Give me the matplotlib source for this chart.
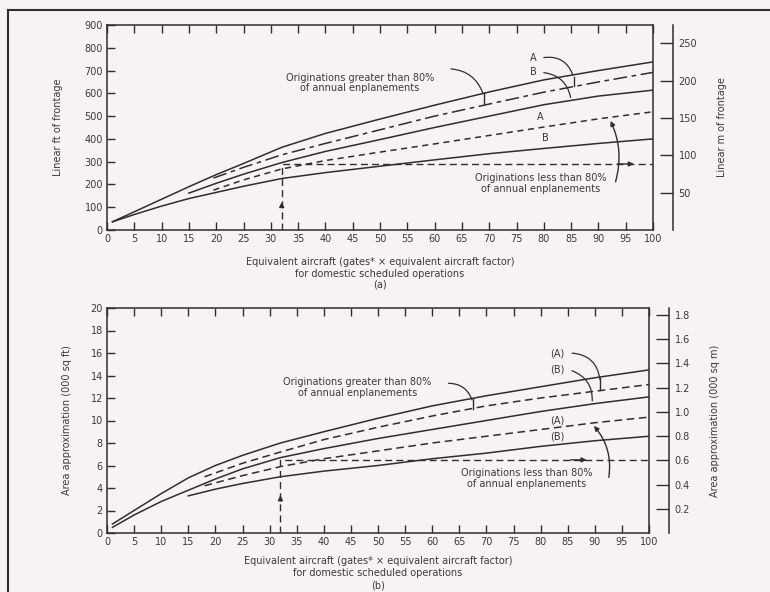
import matplotlib
matplotlib.use("Agg")
import matplotlib.pyplot as plt

# ---------------- data ----------------
# Panel (a): linear ft of frontage
a_x1 = [1, 5, 10, 15, 20, 25, 32, 40, 50, 60, 70, 80, 90, 100]
a_y1 = [36, 80, 135, 190, 243, 292, 363, 424, 487, 548, 606, 659, 700, 738]      # >80% A (solid)
a_x2 = [19.5, 25, 32, 40, 50, 60, 70, 80, 90, 100]
a_y2 = [228, 275, 330, 380, 440, 500, 553, 605, 650, 692]                          # dash-dot
a_x3 = [15, 20, 25, 32, 40, 50, 60, 70, 80, 90, 100]
a_y3 = [162, 205, 245, 296, 345, 397, 450, 500, 550, 588, 614]                     # >80% B (solid)
a_x4 = [19.5, 25, 32, 40, 50, 60, 70, 80, 90, 100]
a_y4 = [175, 220, 268, 305, 342, 378, 415, 452, 488, 519]                          # <80% A (dashed)
a_x5 = [1, 5, 10, 15, 20, 25, 32, 40, 50, 60, 70, 80, 90, 100]
a_y5 = [36, 68, 105, 138, 165, 192, 226, 252, 280, 308, 335, 358, 380, 400]        # <80% B (solid)
a_ex_x = [32, 32, 100]
a_ex_y = [0, 290, 290]                                                              # example read-off

# Panel (b): area approximation (000 sq ft)
b_x1 = [1, 5, 10, 15, 20, 25, 32, 40, 50, 60, 70, 80, 90, 100]
b_y1 = [0.8, 2.0, 3.5, 4.9, 6.0, 6.9, 8.0, 9.0, 10.2, 11.3, 12.2, 13.0, 13.8, 14.5]
b_x2 = [18, 25, 32, 40, 50, 60, 70, 80, 90, 100]
b_y2 = [5.0, 6.2, 7.2, 8.3, 9.4, 10.4, 11.3, 12.0, 12.6, 13.2]
b_x3 = [1, 5, 10, 15, 20, 25, 32, 40, 50, 60, 70, 80, 90, 100]
b_y3 = [0.5, 1.6, 2.8, 3.8, 4.8, 5.7, 6.7, 7.5, 8.4, 9.2, 10.0, 10.8, 11.5, 12.1]
b_x4 = [18, 25, 32, 40, 50, 60, 70, 80, 90, 100]
b_y4 = [4.2, 5.1, 5.9, 6.6, 7.3, 8.0, 8.6, 9.2, 9.8, 10.3]
b_x5 = [15, 20, 25, 32, 40, 50, 60, 70, 80, 90, 100]
b_y5 = [3.3, 3.9, 4.4, 5.0, 5.5, 6.0, 6.6, 7.1, 7.7, 8.2, 8.6]
b_ex_x = [32, 32, 100]
b_ex_y = [0, 6.5, 6.5]

x_ticks = list(range(0, 101, 5))
a_yticks = list(range(0, 901, 100))
a_m_ticks = [50, 100, 150, 200, 250]
b_yticks = list(range(0, 21, 2))
b_m_ticks = [0.2, 0.4, 0.6, 0.8, 1.0, 1.2, 1.4, 1.6, 1.8]

FT_TO_M = 0.3048
SQFT_TO_SQM = 1 / 10.764

xlabel_txt = "Equivalent aircraft (gates* × equivalent aircraft factor)\nfor domestic scheduled operations"

# ---------------- style ----------------
bg = "#f7f2f5"
lc = "#2e2e2e"
tc = "#3a3a3a"
fs = 7
plt.rcParams["font.family"] = ["DejaVu Sans"]

fig = plt.figure(figsize=(7.7, 5.92), dpi=100, facecolor=bg)
W, H = 770, 592


def box(l, r, t, b):
    return [l / W, 1 - b / H, (r - l) / W, (b - t) / H]


axA = fig.add_axes(box(107, 653, 25, 230))
axB = fig.add_axes(box(107, 649, 308, 533))


def style_main(ax, ymax, yticks):
    ax.set_facecolor(bg)
    ax.set_xlim(0, 100)
    ax.set_ylim(0, ymax)
    ax.set_xticks(x_ticks)
    ax.set_yticks(yticks)
    ax.tick_params(direction="in", top=True, right=True, length=6, width=1,
                   labelsize=fs, colors=lc, labelcolor=tc, pad=3)
    for s in ax.spines.values():
        s.set_color(lc)
        s.set_linewidth(1.1)


def style_twin(ax, top, ticks, fmt, label, lx):
    tw = ax.twinx()
    tw.set_ylim(0, top)
    tw.set_yticks(ticks)
    tw.set_yticklabels([fmt(t) for t in ticks])
    for k in ("top", "left", "bottom"):
        tw.spines[k].set_visible(False)
    tw.spines["right"].set_position(("outward", 14.4))
    tw.spines["right"].set_color(lc)
    tw.spines["right"].set_linewidth(1.1)
    tw.tick_params(axis="y", direction="in", length=9.5, width=1, labelsize=fs,
                   colors=lc, labelcolor=tc, pad=4)
    tw.set_ylabel(label, fontsize=fs, color=tc)
    tw.yaxis.set_label_coords(lx, 0.5)
    return tw


style_main(axA, 900, a_yticks)
style_main(axB, 20, b_yticks)
style_twin(axA, 900 * FT_TO_M, a_m_ticks, lambda t: f"{t:d}", "Linear m of frontage", 1.117)
style_twin(axB, 20 * SQFT_TO_SQM, b_m_ticks, lambda t: f"{t:.1f}", "Area approximation (000 sq m)", 1.113)

axA.set_ylabel("Linear ft of frontage", fontsize=fs, color=tc)
axA.yaxis.set_label_coords(-0.081, 0.5)
axB.set_ylabel("Area approximation (000 sq ft)", fontsize=fs, color=tc)
axB.yaxis.set_label_coords(-0.065, 0.5)

lw = 1.1
# ---- panel (a) curves
axA.plot(a_x1, a_y1, color=lc, lw=lw)
axA.plot(a_x2, a_y2, color=lc, lw=lw, dashes=(9, 3, 3, 3))
axA.plot(a_x3, a_y3, color=lc, lw=lw)
axA.plot(a_x4, a_y4, color=lc, lw=lw, dashes=(4, 3))
axA.plot(a_x5, a_y5, color=lc, lw=lw)
axA.plot(a_ex_x, a_ex_y, color=lc, lw=1.0, dashes=(5, 3))

# ---- panel (b) curves
axB.plot(b_x1, b_y1, color=lc, lw=lw)
axB.plot(b_x2, b_y2, color=lc, lw=lw, dashes=(5, 3))
axB.plot(b_x3, b_y3, color=lc, lw=lw)
axB.plot(b_x4, b_y4, color=lc, lw=lw, dashes=(5, 3))
axB.plot(b_x5, b_y5, color=lc, lw=lw)
axB.plot(b_ex_x, b_ex_y, color=lc, lw=1.0, dashes=(5, 3))

arr = dict(arrowstyle="-|>", color=lc, lw=1.0, mutation_scale=7)
lead = dict(arrowstyle="-", color=lc, lw=0.9)

# arrows on the example read-off lines
axA.annotate("", xy=(32, 135), xytext=(32, 95), arrowprops=arr)
axA.annotate("", xy=(97, 290), xytext=(93, 290), arrowprops=arr)
axB.annotate("", xy=(32, 3.6), xytext=(32, 2.6), arrowprops=arr)
axB.annotate("", xy=(89, 6.5), xytext=(85, 6.5), arrowprops=arr)

# ---- annotations panel (a)
axA.text(46.3, 645, "Originations greater than 80%\nof annual enplanements",
         ha="center", va="center", fontsize=7, color=tc, linespacing=1.1)
axA.plot([69, 69], [551, 600], color=lc, lw=1.0)
axA.annotate("", xy=(69, 590), xytext=(62.5, 708),
             arrowprops=dict(**lead, connectionstyle="arc3,rad=-0.35"))
axA.text(78, 757, "A", ha="center", va="center", fontsize=7, color=tc)
axA.plot([85.5, 85.5], [632, 672], color=lc, lw=1.0)
axA.annotate("", xy=(85.5, 668), xytext=(79.5, 755),
             arrowprops=dict(**lead, connectionstyle="arc3,rad=-0.45"))
axA.text(78, 694, "B", ha="center", va="center", fontsize=7, color=tc)
axA.annotate("", xy=(85, 570), xytext=(79.5, 692),
             arrowprops=dict(**lead, connectionstyle="arc3,rad=-0.4"))
axA.text(79.3, 497, "A", ha="center", va="center", fontsize=7, color=tc)
axA.text(80.2, 404, "B", ha="center", va="center", fontsize=7, color=tc)
axA.text(79.5, 205, "Originations less than 80%\nof annual enplanements",
         ha="center", va="center", fontsize=7, color=tc, linespacing=1.1)
axA.annotate("", xy=(92, 490), xytext=(93, 200),
             arrowprops=dict(**arr, connectionstyle="arc3,rad=0.2"))

# ---- annotations panel (b)
axB.text(46.2, 12.9, "Originations greater than 80%\nof annual enplanements",
         ha="center", va="center", fontsize=7, color=tc, linespacing=1.1)
axB.plot([67.5, 67.5], [11.0, 11.9], color=lc, lw=1.0)
axB.annotate("", xy=(67.5, 11.6), xytext=(62.5, 13.3),
             arrowprops=dict(**lead, connectionstyle="arc3,rad=-0.4"))
axB.text(83, 16.0, "(A)", ha="center", va="center", fontsize=7, color=tc)
axB.plot([91, 91], [12.7, 13.8], color=lc, lw=1.0)
axB.annotate("", xy=(91, 13.4), xytext=(85.3, 16.0),
             arrowprops=dict(**lead, connectionstyle="arc3,rad=-0.45"))
axB.text(83, 14.5, "(B)", ha="center", va="center", fontsize=7, color=tc)
axB.annotate("", xy=(89.5, 11.5), xytext=(85.3, 14.5),
             arrowprops=dict(**lead, connectionstyle="arc3,rad=-0.4"))
axB.text(83, 10.0, "(A)", ha="center", va="center", fontsize=7, color=tc)
axB.text(83, 8.55, "(B)", ha="center", va="center", fontsize=7, color=tc)
axB.text(77.5, 4.85, "Originations less than 80%\nof annual enplanements",
         ha="center", va="center", fontsize=7, color=tc, linespacing=1.1)
axB.annotate("", xy=(89.5, 9.7), xytext=(92.5, 4.7),
             arrowprops=dict(**arr, connectionstyle="arc3,rad=0.25"))

# ---- x labels and panel captions
fig.text(380 / W, 1 - 268 / H, xlabel_txt, ha="center", va="center",
         fontsize=7, color=tc, linespacing=1.15)
fig.text(380 / W, 1 - 285 / H, "(a)", ha="center", va="center", fontsize=7, color=tc)
fig.text(378 / W, 1 - 567 / H, xlabel_txt, ha="center", va="center",
         fontsize=7, color=tc, linespacing=1.15)
fig.text(378 / W, 1 - 586 / H, "(b)", ha="center", va="center", fontsize=7, color=tc)

# ---- outer frame of the scanned figure
fig.add_artist(plt.Line2D([8 / W, 1], [1 - 10 / H, 1 - 10 / H], transform=fig.transFigure,
                          color=lc, lw=1.5))
fig.add_artist(plt.Line2D([8 / W, 8 / W], [0, 1 - 10 / H], transform=fig.transFigure,
                          color=lc, lw=1.5))

fig.savefig("out.png", dpi=100, facecolor=bg)
